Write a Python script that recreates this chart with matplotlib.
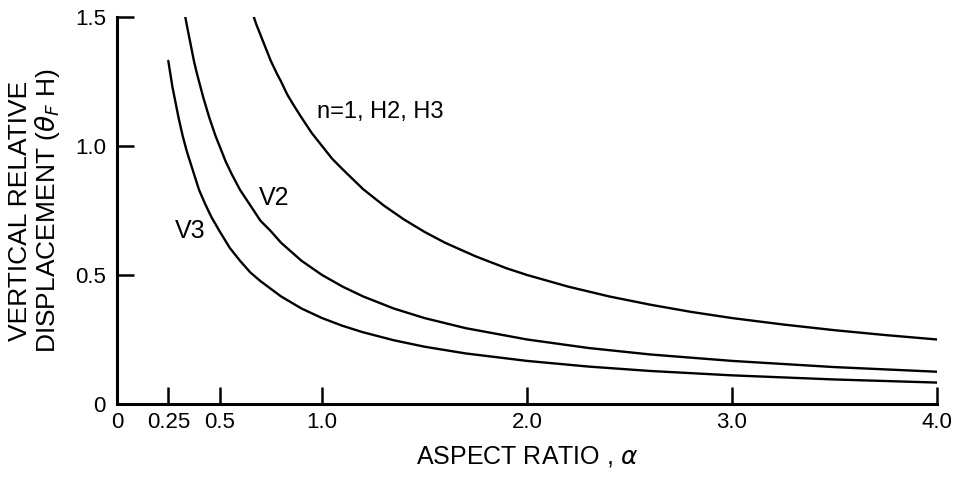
import matplotlib.pyplot as plt

# Values
alpha_h = [0.667, 0.68, 0.70, 0.72, 0.75, 0.78, 0.80, 0.83, 0.86, 0.90, 0.95,
           1.0, 1.05, 1.1, 1.2, 1.3, 1.4, 1.5, 1.6, 1.75, 1.9, 2.0, 2.2, 2.4,
           2.6, 2.8, 3.0, 3.25, 3.5, 3.75, 4.0]
disp_h = [1.50, 1.47, 1.43, 1.39, 1.33, 1.28, 1.25, 1.20, 1.16, 1.11, 1.05,
          1.00, 0.95, 0.91, 0.833, 0.77, 0.715, 0.667, 0.625, 0.572, 0.526, 0.50,
          0.455, 0.417, 0.385, 0.357, 0.333, 0.308, 0.286, 0.267, 0.25]

alpha_v2 = [0.333, 0.34, 0.35, 0.36, 0.375, 0.39, 0.40, 0.42, 0.45, 0.48, 0.50,
            0.53, 0.56, 0.60, 0.65, 0.70, 0.75, 0.80, 0.90, 1.0, 1.1, 1.2,
            1.35, 1.5, 1.7, 2.0, 2.3, 2.6, 3.0, 3.5, 4.0]
disp_v2 = [1.50, 1.47, 1.43, 1.39, 1.33, 1.28, 1.25, 1.19, 1.11, 1.04, 1.00,
           0.94, 0.89, 0.83, 0.77, 0.71, 0.67, 0.625, 0.555, 0.50, 0.455, 0.417,
           0.37, 0.333, 0.294, 0.25, 0.217, 0.192, 0.167, 0.143, 0.125]

alpha_v3 = [0.25, 0.26, 0.27, 0.28, 0.30, 0.32, 0.34, 0.36, 0.38, 0.40, 0.43,
            0.46, 0.50, 0.55, 0.60, 0.65, 0.70, 0.80, 0.90, 1.0, 1.1, 1.2,
            1.35, 1.5, 1.7, 2.0, 2.3, 2.6, 3.0, 3.5, 4.0]
disp_v3 = [1.33, 1.28, 1.23, 1.19, 1.11, 1.04, 0.98, 0.93, 0.88, 0.83, 0.775,
           0.725, 0.67, 0.605, 0.555, 0.51, 0.476, 0.417, 0.37, 0.333, 0.303,
           0.278, 0.247, 0.222, 0.196, 0.167, 0.145, 0.128, 0.111, 0.095, 0.083]

x_ticks = [0, 0.25, 0.5, 1.0, 2.0, 3.0, 4.0]
x_labels = ["0", "0.25", "0.5", "1.0", "2.0", "3.0", "4.0"]
y_ticks = [0, 0.5, 1.0, 1.5]
y_labels = ["0", "0.5", "1.0", "1.5"]

plt.rcParams['font.family'] = ['Liberation Sans', 'DejaVu Sans']

fig = plt.figure(figsize=(9.64, 4.79), dpi=100)
ax = fig.add_axes([0.1214, 0.1566, 0.8506, 0.808])

for a, d in [(alpha_h, disp_h), (alpha_v2, disp_v2), (alpha_v3, disp_v3)]:
    ax.plot(a, d, color='black', lw=1.7, solid_capstyle='round',
            solid_joinstyle='round')

ax.text(0.976, 1.13, "n=1, H2, H3", fontsize=17, va='center', ha='left')
ax.text(0.69, 0.80, "V2", fontsize=18, va='center', ha='left')
ax.text(0.28, 0.67, "V3", fontsize=18, va='center', ha='left')

ax.set_xlim(0, 4.0)
ax.set_ylim(0, 1.5)
ax.set_xticks(x_ticks)
ax.set_xticklabels(x_labels)
ax.set_yticks(y_ticks)
ax.set_yticklabels(y_labels)
ax.tick_params(direction='in', length=12, width=1.8, labelsize=16, pad=6)
ax.tick_params(axis='y', pad=8)

for side in ['top', 'right']:
    ax.spines[side].set_visible(False)
for side in ['left', 'bottom']:
    ax.spines[side].set_linewidth(2.2)

ax.set_xlabel(r"ASPECT RATIO , $\alpha$", fontsize=18, labelpad=8)
ax.set_ylabel("VERTICAL RELATIVE\n" + r"DISPLACEMENT ($\theta_F$ H)",
              fontsize=19, labelpad=9, linespacing=1.05)

fig.savefig("out.png", dpi=100)
